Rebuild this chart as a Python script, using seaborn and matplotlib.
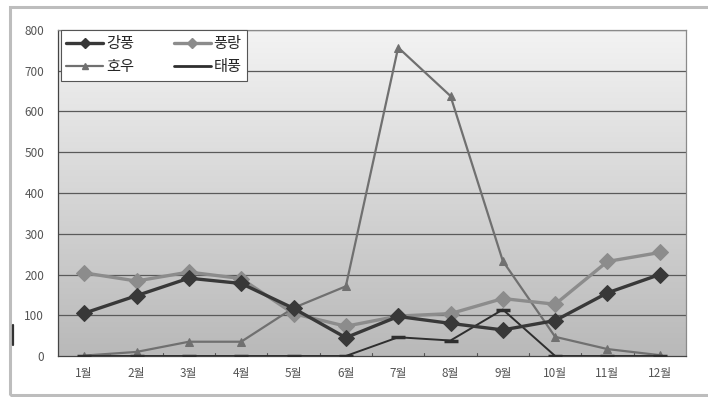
import numpy as np
import pandas as pd
import matplotlib
matplotlib.use("Agg")
import matplotlib.pyplot as plt
import seaborn as sns
from matplotlib.patches import Rectangle
from matplotlib.lines import Line2D

months = ["1월", "2월", "3월", "4월", "5월", "6월", "7월", "8월", "9월", "10월", "11월", "12월"]
gale = [105, 148, 191, 178, 117, 45, 97, 80, 64, 87, 155, 200]          # 강풍
swell = [204, 184, 206, 190, 104, 73, 98, 104, 141, 127, 232, 254]      # 풍랑
heavy_rain = [1, 10, 35, 35, 118, 171, 757, 638, 233, 47, 17, 2]        # 호우
typhoon = [0, 0, 0, 0, 0, 0, 46, 38, 114, 0, 0, 0]                      # 태풍
y_ticks = [0, 100, 200, 300, 400, 500, 600, 700, 800]

sns.set_style("white")
plt.rcParams["font.family"] = ["Noto Sans CJK KR", "DejaVu Sans"]

fig = plt.figure(figsize=(7.08, 3.97), dpi=100)
fig.patch.set_facecolor("white")

# outer chart frame
fig.add_artist(Rectangle((10 / 708, 2 / 397), 720 / 708, 388 / 397,
                         transform=fig.transFigure, fill=False,
                         edgecolor="#bdbdbd", linewidth=2.2))
fig.add_artist(Line2D([13 / 708, 13 / 708], [52 / 397, 72 / 397],
                      transform=fig.transFigure, color="#333333", linewidth=1.6))

ax = fig.add_axes([58 / 708, 41 / 397, 628 / 708, 326 / 397])

# vertical gray gradient behind the plot: light at the top, darker at the bottom
grad = np.linspace(0, 1, 256).reshape(-1, 1)
cmap = matplotlib.colors.LinearSegmentedColormap.from_list("bg", ["#f3f3f3", "#b9b9b9"])
ax.imshow(grad, aspect="auto", cmap=cmap, extent=(0, 1, 0, 1), origin="upper",
          transform=ax.transAxes, zorder=0)

df = pd.DataFrame({"월": months, "강풍": gale, "풍랑": swell, "호우": heavy_rain, "태풍": typhoon})
x = np.arange(len(months))

sns.lineplot(x=x, y=df["호우"], ax=ax, color="#707070", linewidth=1.6,
             marker="^", markersize=6, markeredgecolor="#707070", label="호우", zorder=3)
sns.lineplot(x=x, y=df["태풍"], ax=ax, color="#2e2e2e", linewidth=1.4,
             marker="_", markersize=10, markeredgewidth=2.5, markeredgecolor="#2e2e2e",
             markerfacecolor="#2e2e2e", label="태풍", zorder=4)
sns.lineplot(x=x, y=df["풍랑"], ax=ax, color="#8c8c8c", linewidth=2.4,
             marker="D", markersize=8, markeredgecolor="#8c8c8c", label="풍랑", zorder=5)
sns.lineplot(x=x, y=df["강풍"], ax=ax, color="#383838", linewidth=2.4,
             marker="D", markersize=8, markeredgecolor="#383838", label="강풍", zorder=6)

ax.set_xlim(-0.5, len(months) - 0.5)
ax.set_ylim(0, 800)
ax.set_yticks(y_ticks)
ax.set_yticklabels([str(v) for v in y_ticks])
ax.set_xticks(x)
ax.set_xticklabels(months)
ax.set_xlabel("")
ax.set_ylabel("")

for v in y_ticks[1:]:
    ax.axhline(v, color="#5a5a5a", linewidth=0.9, zorder=1)
# category boundary ticks on the x axis
for b in np.arange(0.5, len(months) - 0.5, 1):
    ax.plot([b, b], [0, 8], color="#555555", linewidth=0.8, zorder=2)

ax.tick_params(axis="both", length=0, labelsize=8.5, labelcolor="#555555")
ax.tick_params(axis="x", pad=8)
ax.tick_params(axis="y", pad=10)
for s in ax.spines.values():
    s.set_color("#8a8a8a")
    s.set_linewidth(0.9)
ax.spines["bottom"].set_color("#444444")
ax.spines["left"].set_color("#444444")

# legend with small markers and a plain line handle for 태풍
legend_handles = {
    "강풍": Line2D([], [], color="#383838", linewidth=2.4, marker="D", markersize=5),
    "호우": Line2D([], [], color="#707070", linewidth=1.6, marker="^", markersize=5),
    "풍랑": Line2D([], [], color="#8c8c8c", linewidth=2.4, marker="D", markersize=5),
    "태풍": Line2D([], [], color="#2e2e2e", linewidth=2.0),
}
order = ["강풍", "호우", "풍랑", "태풍"]
leg = ax.legend([legend_handles[n] for n in order], order,
                ncol=2, loc="upper left", bbox_to_anchor=(0.005, 1.0),
                frameon=True, fancybox=False, framealpha=1, edgecolor="#555555",
                fontsize=11, handlelength=2.4, columnspacing=2.6,
                borderpad=0.35, labelspacing=0.4, handletextpad=0.2,
                borderaxespad=0.0)
leg.get_frame().set_linewidth(0.8)
leg.set_zorder(10)

fig.savefig("out.png", dpi=100)
